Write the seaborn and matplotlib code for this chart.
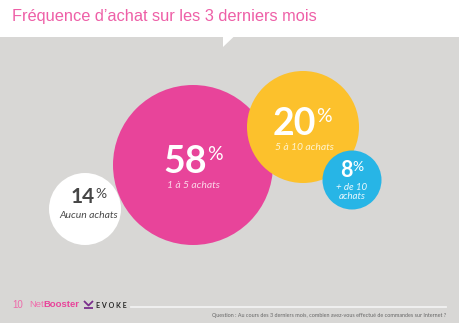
import matplotlib
matplotlib.use("Agg")
import matplotlib.pyplot as plt
import seaborn as sns
import pandas as pd
from matplotlib.patches import Rectangle, Polygon

# ---------------- data ----------------
categories = ["Aucun achats", "1 à 5 achats", "5 à 10 achats", "+ de 10\nachats"]
values = [14, 58, 20, 8]
title = "Fréquence d\u2019achat sur les 3 derniers mois"
question = "Question : Au cours des 3 derniers mois, combien avez-vous effectué de commandes sur Internet ?"

# ---------------- layout / style (pixel units) ----------------
bubble_x = [85, 193, 303, 352]
bubble_y = [209, 165, 127, 180]
bubble_r = [36, 80, 56, 29.5]
colors = ["#ffffff", "#e8449a", "#fcc12c", "#27b5e6"]
num_colors = ["#464646", "#ffffff", "#ffffff", "#ffffff"]
lab_colors = ["#4a4a4a", "#fbd6e8", "#fff4cf", "#eaf8fe"]
num_size = [15, 27, 27, 15.5]
pct_size = [10, 14, 14, 10]
lab_size = [7.5, 7.5, 7.5, 7]
num_dx = [-2, -8, -9, -6]      # number centre offset from bubble centre
num_dy = [-6, 8, 8, -3]        # baseline offset
lab_dx = [4, 0, 1, 0]
lab_dy = [7, 21, 20, 12]

BG = "#d8d7d5"
W, H = 460, 323
fig = plt.figure(figsize=(W / 100, H / 100), dpi=100, facecolor=BG)
ax = fig.add_axes([0, 0, 1, 1])
ax.set_xlim(0, W)
ax.set_ylim(H, 0)
ax.set_facecolor(BG)
ax.axis("off")

# header band with notch
ax.add_patch(Rectangle((0, 0), W, 37, facecolor="white", edgecolor="none", zorder=1))
ax.add_patch(Polygon([(223, 36.5), (234, 36.5), (223, 47)], closed=True,
                     facecolor="white", edgecolor="none", zorder=1))
ax.text(12, 17, title, family="Liberation Sans", fontsize=11.8, color="#ee5fa7",
        va="center", ha="left", zorder=3)

# bubbles
df = pd.DataFrame({"label": categories, "value": values, "bx": bubble_x, "by": bubble_y})
pt_per_px = 72 / 100
size_map = {c: (2 * r * pt_per_px) ** 2 for c, r in zip(categories, bubble_r)}
pal = dict(zip(categories, colors))
sns.scatterplot(data=df, x="bx", y="by", hue="label", palette=pal, size="label",
                sizes=size_map, legend=False, linewidth=0, ax=ax, zorder=2, alpha=1)
ax.set_xlim(0, W)
ax.set_ylim(H, 0)
ax.axis("off")

for i, (lab, v) in enumerate(zip(categories, values)):
    cx, cy = bubble_x[i], bubble_y[i]
    t = ax.text(cx + num_dx[i], cy + num_dy[i], f"{v}", family="Lato", fontweight="bold",
                fontsize=num_size[i], color=num_colors[i], ha="center", va="baseline", zorder=4)
    ax.annotate("%", xy=(1.0, 0.97), xycoords=t, xytext=(0.2, 0), textcoords="offset points",
                ha="left", va="top", family="Lato",
                fontsize=pct_size[i], color=num_colors[i], zorder=4)
    ax.text(cx + lab_dx[i], cy + lab_dy[i], lab, family="Lato", style="italic",
            fontsize=lab_size[i], color=lab_colors[i], ha="center", va="center",
            linespacing=0.95, zorder=4)

# footer
ax.text(12, 304.5, "10", family="Liberation Sans", fontsize=7, color="#ee6aaa",
        ha="left", va="center")
tn = ax.text(29, 304.5, "Net", family="Liberation Sans", fontsize=6.8, color="#f06eac",
             ha="left", va="center")
ax.annotate("Booster", xy=(1.0, 0.5), xycoords=tn, family="Liberation Sans",
            fontweight="bold", fontsize=6.8, color="#e8449a", ha="left", va="center")
ax.plot([84, 88.5, 93], [301, 305.5, 301], color="#7a2e8c", lw=1.3, solid_capstyle="butt")
ax.plot([84, 93], [308, 308], color="#7a2e8c", lw=1.3, solid_capstyle="butt")
ax.text(96, 305, "E V O K E", family="Lato", fontweight="bold", fontsize=5.1,
        color="#262626", ha="left", va="center")
ax.plot([131, 446], [307, 307], color="#f2f2f2", lw=1.3)
ax.text(446, 315, question, family="Lato", fontsize=3.9, color="#666666",
        ha="right", va="center")

fig.savefig("out.png", dpi=100, facecolor=BG)
